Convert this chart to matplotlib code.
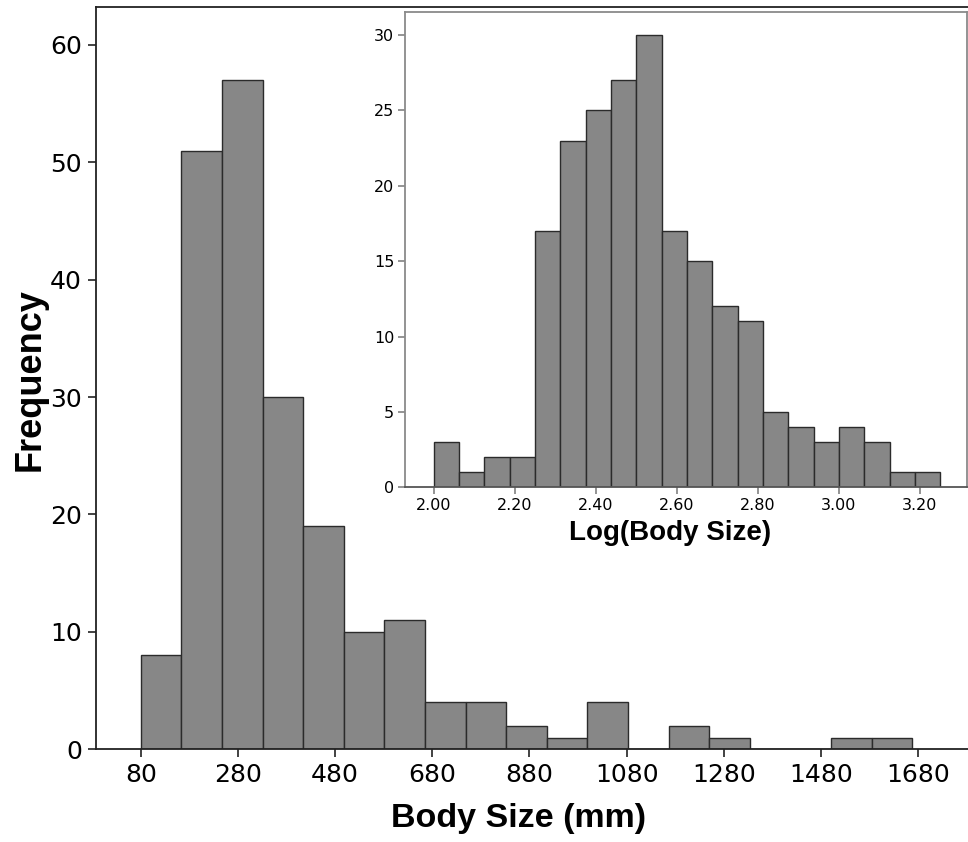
import numpy as np
import matplotlib
matplotlib.use("Agg")
from matplotlib import pyplot as plt

# main histogram: body size (mm), 19 equal bins starting at 80 mm
body_start = 80
body_width = 1588 / 19
body_counts = [8, 51, 57, 30, 19, 10, 11, 4, 4, 2, 1, 4, 0, 2, 1, 0, 0, 1, 1]
body_ticks = [80, 280, 480, 680, 880, 1080, 1280, 1480, 1680]
freq_ticks = [0, 10, 20, 30, 40, 50, 60]

# inset histogram: log10(body size), 20 bins of 0.0625 from 2.00
log_start = 2.0
log_width = 0.0625
log_counts = [3, 1, 2, 2, 17, 23, 25, 27, 30, 17, 15, 12, 11, 5, 4, 3, 4, 3, 1, 1]
log_ticks = [2.0, 2.2, 2.4, 2.6, 2.8, 3.0, 3.2]
log_freq_ticks = [0, 5, 10, 15, 20, 25, 30]

bar_color = "#878787"
edge_color = "#2b2b2b"
tick_font = "DejaVu Sans"
label_font = "Liberation Sans"

W, H = 968, 842
fig = plt.figure(figsize=(W / 100, H / 100), dpi=100)

# main axes (pixel box: left 96, top 6.7, bottom 749.3, runs off right edge)
ax = fig.add_axes([96 / W, (H - 749.3) / H, (975 - 96) / W, (749.3 - 6.7) / H])
edges = body_start + body_width * np.arange(len(body_counts))
ax.bar(edges, body_counts, width=body_width, align="edge",
       color=bar_color, edgecolor=edge_color, linewidth=1.0)
ax.set_xlim(-12, 1797)
ax.set_ylim(0, 63.25)
ax.set_xticks(body_ticks)
ax.set_yticks(freq_ticks)
ax.tick_params(axis="both", direction="out", length=6, width=1.2, color="#222222",
               labelsize=18, pad=4)
for lab in ax.get_xticklabels() + ax.get_yticklabels():
    lab.set_fontfamily(tick_font)
for s in ["left", "bottom", "top"]:
    ax.spines[s].set_linewidth(1.3)
    ax.spines[s].set_color("#222222")
ax.spines["right"].set_visible(False)

fig.text(519 / W, (H - 818) / H, "Body Size (mm)", ha="center", va="center",
         fontsize=24.5, fontweight="bold", family=label_font)
fig.text(30 / W, (H - 380) / H, "Frequency", ha="center", va="center", rotation=90,
         fontsize=26, fontweight="bold", family=label_font)

# inset axes (pixel box: left 405.3, right 967, top 11.7, bottom 487.3)
ins = fig.add_axes([405.3 / W, (H - 487.3) / H, (967 - 405.3) / W, (487.3 - 11.7) / H])
ins.set_zorder(3)
log_edges = log_start + log_width * np.arange(len(log_counts))
ins.bar(log_edges, log_counts, width=log_width, align="edge",
        color=bar_color, edgecolor=edge_color, linewidth=1.0)
ins.set_xlim(1.930, 3.316)
ins.set_ylim(0, 31.55)
ins.set_xticks(log_ticks)
ins.set_xticklabels([f"{t:.2f}" for t in log_ticks])
ins.set_yticks(log_freq_ticks)
ins.tick_params(axis="both", direction="out", length=5, width=1.1, color="#777777",
                labelsize=11.5, pad=3)
for lab in ins.get_xticklabels() + ins.get_yticklabels():
    lab.set_fontfamily(tick_font)
for s in ins.spines.values():
    s.set_linewidth(1.3)
    s.set_color("#8a8a8a")
ins.spines["bottom"].set_color("#555555")

fig.text(670 / W, (H - 533) / H, "Log(Body Size)", ha="center", va="center",
         fontsize=20, fontweight="bold", family=label_font)

fig.savefig("out.png", dpi=100)
